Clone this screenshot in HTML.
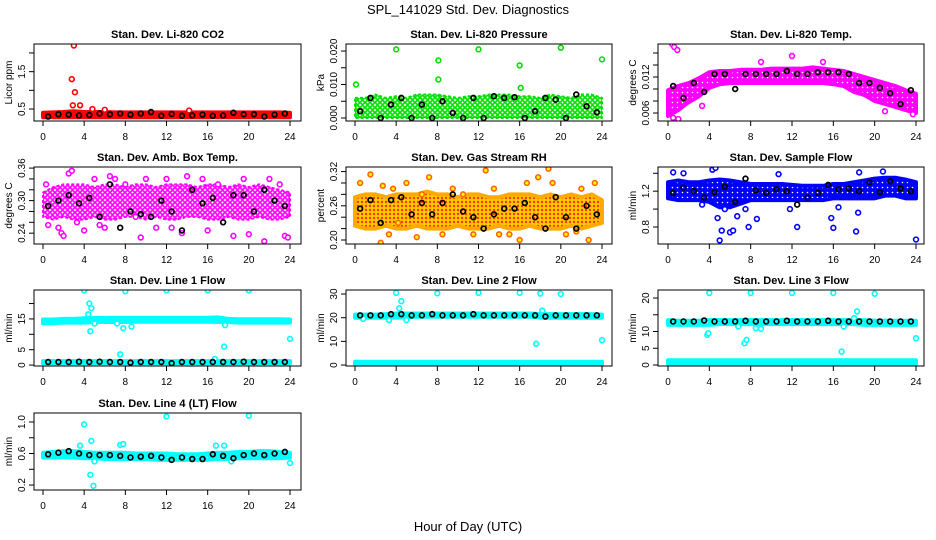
<!DOCTYPE html>
<html><head><meta charset="utf-8"><style>
html,body{margin:0;padding:0;background:#fff;}
svg{display:block;font-family:"Liberation Sans",sans-serif;}
</style></head><body>
<svg id="chart" width="936" height="540" viewBox="0 0 936 540">
<text x="468" y="14" text-anchor="middle" font-size="13">SPL_141029  Std. Dev. Diagnostics</text>
<text x="468" y="531" text-anchor="middle" font-size="13">Hour of Day (UTC)</text>
</svg>
<script>
const blackHours=[0.5,1.5,2.5,3.5,4.5,5.5,6.5,7.5,8.5,9.5,10.5,11.5,12.5,13.5,14.5,15.5,16.5,17.5,18.5,19.5,20.5,21.5,22.5,23.5];
const bandHours=[0,1,2,3,4,5,6,7,8,9,10,11,12,13,14,15,16,17,18,19,20,21,22,23,24];
const flatHours=[0,24];
const xTicks=[0,4,8,12,16,20,24];

const co2Lo=[0.28,0.28,0.28,0.28,0.28,0.28,0.28,0.28,0.28,0.28,0.28,0.28,0.28,0.28,0.28,0.28,0.28,0.28,0.28,0.28,0.28,0.28,0.28,0.28,0.28];
const co2Hi=[0.4,0.41,0.42,0.44,0.42,0.42,0.42,0.41,0.41,0.41,0.41,0.41,0.41,0.41,0.41,0.41,0.41,0.41,0.41,0.41,0.41,0.41,0.41,0.41,0.4];
const co2OutX=[2.8,3.0,3.1,2.9,3.6,4.8,6.0,14.2];
const co2OutY=[1.3,2.2,0.95,0.6,0.6,0.5,0.48,0.46];
const co2Black=[0.3,0.36,0.35,0.33,0.34,0.38,0.36,0.38,0.35,0.38,0.42,0.32,0.37,0.32,0.33,0.35,0.32,0.33,0.4,0.36,0.36,0.3,0.35,0.38];

const presLo=[0,0,0,0,0,0,0,0,0,0,0,0,0,0,0,0,0,0,0,0,0,0,0,0,0];
const presHi=[0.006,0.006,0.007,0.006,0.0065,0.006,0.007,0.007,0.007,0.0065,0.006,0.0065,0.0065,0.007,0.007,0.007,0.0065,0.0065,0.006,0.007,0.0065,0.006,0.007,0.007,0.006];
const presOutX=[0.1,4,8.1,8.1,12,16,16.1,20,24];
const presOutY=[0.010,0.0205,0.0172,0.0115,0.0205,0.0157,0.009,0.021,0.0175];
const presBlack=[0.002,0.006,0,0.004,0.006,0,0.004,0,0.005,0.0015,0,0.006,0,0.0065,0.006,0.0062,0,0.002,0.006,0.0055,0,0.007,0.0035,0.0017];

const tempLo=[0.0055,0.0065,0.0078,0.0088,0.0102,0.0108,0.011,0.011,0.011,0.011,0.011,0.011,0.011,0.011,0.011,0.011,0.0108,0.0105,0.0095,0.009,0.008,0.0075,0.007,0.0065,0.006];
const tempHi=[0.0098,0.0105,0.011,0.0118,0.0128,0.013,0.013,0.0132,0.0132,0.0132,0.0134,0.0134,0.0134,0.0134,0.0136,0.0134,0.0132,0.013,0.0125,0.012,0.0115,0.011,0.0105,0.0098,0.0092];
const tempOutX=[0.4,0.6,0.9,0.5,1.0,3.3,21,23.7,9,12,15];
const tempOutY=[0.0175,0.017,0.0165,0.0052,0.005,0.0072,0.0063,0.0058,0.0145,0.0155,0.0145];
const tempBlack=[0.0105,0.0085,0.011,0.0095,0.0125,0.0125,0.0100,0.0125,0.0125,0.0125,0.0125,0.0130,0.0125,0.0125,0.0128,0.0128,0.0128,0.0125,0.0110,0.0110,0.0102,0.0093,0.0075,0.0098];

const boxLo=[0.27,0.265,0.27,0.265,0.265,0.27,0.265,0.265,0.27,0.27,0.265,0.27,0.265,0.265,0.27,0.27,0.265,0.265,0.27,0.265,0.265,0.27,0.265,0.265,0.27];
const boxHi=[0.315,0.325,0.33,0.33,0.33,0.325,0.33,0.33,0.325,0.33,0.33,0.325,0.33,0.33,0.33,0.325,0.33,0.33,0.325,0.33,0.325,0.33,0.325,0.32,0.315];
const boxOutX=[0.3,1.5,1.8,2,2.5,2.8,3.3,4,5,5.5,6.5,7,8,9.5,10,11,12,13.5,14,15.5,16,17,18.5,19.5,20,21.5,22,23,23.5,23.8,12.5,9,0.5,6];
const boxOutY=[0.33,0.25,0.24,0.235,0.35,0.355,0.26,0.245,0.34,0.255,0.345,0.34,0.33,0.232,0.34,0.25,0.34,0.24,0.345,0.34,0.245,0.33,0.235,0.34,0.238,0.225,0.34,0.33,0.235,0.232,0.25,0.27,0.255,0.25];
const boxBlack=[0.29,0.30,0.31,0.295,0.305,0.27,0.33,0.25,0.28,0.275,0.27,0.30,0.28,0.245,0.32,0.295,0.305,0.26,0.31,0.31,0.28,0.32,0.30,0.29];

const rhLo=[0.225,0.22,0.22,0.225,0.22,0.22,0.225,0.22,0.22,0.22,0.225,0.22,0.22,0.22,0.225,0.22,0.22,0.225,0.22,0.22,0.22,0.225,0.22,0.225,0.23];
const rhHi=[0.275,0.28,0.28,0.275,0.28,0.28,0.28,0.285,0.28,0.28,0.275,0.28,0.28,0.275,0.275,0.28,0.28,0.28,0.275,0.28,0.275,0.28,0.275,0.28,0.27];
const rhOutX=[0.5,1.5,2.5,3.7,4.2,5,6.5,7.2,8.5,9.5,10.5,11.5,12.7,13.5,15,16,16.7,17.8,18.8,19.2,20.5,21.5,22.7,23.3,2.7,3.3,6,14,22];
const rhOutY=[0.30,0.315,0.195,0.29,0.23,0.30,0.28,0.31,0.21,0.29,0.28,0.21,0.322,0.29,0.21,0.20,0.30,0.31,0.325,0.30,0.21,0.215,0.20,0.30,0.295,0.21,0.205,0.21,0.29];
const rhBlack=[0.255,0.27,0.23,0.27,0.275,0.245,0.265,0.245,0.265,0.28,0.25,0.24,0.22,0.245,0.255,0.255,0.265,0.24,0.22,0.275,0.24,0.22,0.26,0.245];

const flowLo=[1.12,1.1,1.1,1.1,1.08,1.02,1.02,1.06,1.1,1.1,1.1,1.1,1.1,1.1,1.1,1.1,1.12,1.12,1.12,1.12,1.12,1.15,1.15,1.12,1.12];
const flowHi=[1.3,1.32,1.3,1.3,1.32,1.33,1.32,1.3,1.28,1.28,1.28,1.28,1.27,1.26,1.26,1.26,1.28,1.28,1.3,1.32,1.34,1.35,1.35,1.33,1.3];
const flowOutX=[0.5,1.5,4.3,4.8,5,5.2,5.5,6,6.3,6.7,7.8,8.6,10.7,11.8,12.5,15.8,16,16.5,18.2,18.4,18.5,20.8,24,3.3,4.6,7.5];
const flowOutY=[1.41,1.4,1.44,0.9,0.65,0.76,1.0,0.74,0.76,0.92,0.8,0.89,1.39,1.0,0.8,0.9,0.79,1.02,0.75,0.96,1.41,1.42,0.66,1.05,1.46,1.0];
const flowBlack=[1.18,1.24,1.2,1.13,1.19,1.25,1.08,1.34,1.21,1.18,1.22,1.2,1.05,1.13,1.18,1.27,1.22,1.23,1.2,1.3,1.19,1.31,1.23,1.2];

const l1Lo=[13.6,13.6,13.8,13.8,13.8,14,14,14,14,14.1,14.1,14.1,14.1,14.1,14.1,14.1,14.1,14,14,13.8,13.8,13.8,13.8,13.8,13.8];
const l1Hi=[14.8,14.8,15,15,15.2,15.3,15.3,15.4,15.4,15.4,15.4,15.4,15.4,15.4,15.4,15.4,15.4,15.5,15,14.9,14.9,14.9,14.9,14.9,14.8];
const l1LowLo=[0.6,0.6];
const l1LowHi=[1.3,1.3];
const l1OutX=[4,4.5,4.7,4.4,4.6,5,7.5,7.8,8,12,16,17.6,17.7,20,24,16.7,7.2,8.6];
const l1OutY=[24.3,20,18.5,16.5,11,13.5,3.5,12,24,24.3,24.3,6,13,24.3,8.5,2,13.5,12.5];
const l1Black=[1,1,1,1.1,1,1.1,1,1,0.8,1,1,1,0.6,1,1,1,1,1,1,1.1,1,1,1,1];

const l2Lo=[20,20,20,20,20,20.2,20.4,20.4,20.4,20.4,20.4,20.4,20.4,20.4,20.4,20.4,20.4,20.4,20,20,20,20,20,20,20];
const l2Hi=[21.3,21.3,21.3,21.5,21.8,21.8,21.8,21.8,21.8,21.8,21.8,21.8,21.8,21.8,21.8,21.8,21.8,21.8,21.5,21.5,21.5,21.5,21.5,21.5,21.3];
const l2LowLo=[0.3,0.3];
const l2LowHi=[1.4,1.4];
const l2OutX=[4,8,12,16,18,20,4.5,4.3,17.6,24,18.2,3.3,0.8,5];
const l2OutY=[30.5,30.3,30.5,30.5,30.2,30,27,24,9,10.5,23,19,19.5,19];
const l2Black=[21,21,21,21.5,21.5,21,21,21.5,21,21,21,21.5,21,21,21,21,21,21,20.5,21,21,21,21,21];

const l3Lo=[12,12,12,12,12,12.2,12.2,12.2,12.2,12.2,12.2,12.2,12.2,12.2,12.2,12.2,12.2,12.2,12.2,12,12,12,12,12,12];
const l3Hi=[13.4,13.2,13.2,13.2,13.4,13.4,13.4,13.4,13.4,13.4,13.4,13.4,13.4,13.4,13.4,13.4,13.4,13.4,13.4,13.4,13.2,13.2,13.2,13.2,13.2];
const l3LowLo=[0.3,0.3];
const l3LowHi=[1.4,1.4];
const l3OutX=[4,8,12,16,20,18.3,3.8,3.9,7.4,7.6,8.5,6.8,16.8,24,17,9,18];
const l3OutY=[21.5,21.5,21.5,21.5,21.3,16,9,9.5,6.5,7.5,11,11.5,4,8,11.5,10.8,14];
const l3Black=[13,13,13,13.3,13,13,13,13.2,13,13,13,13.2,13,13,13,13.2,13,13,13,13,13,13,13,13];

const l4Lo=[0.55,0.55,0.55,0.55,0.54,0.54,0.53,0.53,0.53,0.53,0.53,0.52,0.52,0.52,0.52,0.52,0.52,0.53,0.53,0.54,0.54,0.54,0.54,0.54,0.55];
const l4Hi=[0.61,0.62,0.63,0.63,0.62,0.61,0.61,0.61,0.61,0.6,0.6,0.6,0.6,0.59,0.59,0.59,0.6,0.61,0.61,0.62,0.62,0.63,0.63,0.62,0.61];
const l4OutX=[4,4.7,4.6,4.9,12,20,3.6,7.5,7.8,16.8,17.6,24,5,18.3];
const l4OutY=[0.97,0.76,0.33,0.19,1.07,1.08,0.7,0.71,0.72,0.7,0.7,0.48,0.5,0.5];
const l4Black=[0.59,0.61,0.63,0.6,0.58,0.58,0.58,0.57,0.55,0.56,0.57,0.55,0.52,0.55,0.53,0.53,0.59,0.57,0.54,0.58,0.6,0.58,0.6,0.62];

const NS='http://www.w3.org/2000/svg';
const svg=document.getElementById('chart');
function mk(tag,attrs,parent){const e=document.createElementNS(NS,tag);for(const k in attrs)e.setAttribute(k,attrs[k]);(parent||svg).appendChild(e);return e;}

const cols=[{l:34,r:301,x0:43,x24:290},{l:346,r:612,x0:355,x24:602},{l:658,r:924,x0:668,x24:916}];
const rows=[{t:44,b:121},{t:167,b:244},{t:290,b:366},{t:413,b:490}];

const panels=[
 {name:'co2',title:'Stan. Dev. Li-820 CO2',ylab:'Licor ppm',c:0,r:0,ymin:0.18,ymax:2.24,ticks:[0.5,1,1.5,2],labels:['0.5','','1.5',''],color:'#ff0000',
  bands:[[bandHours,co2Lo,co2Hi]],ox:co2OutX,oy:co2OutY,black:co2Black},
 {name:'pressure',title:'Stan. Dev. Li-820 Pressure',ylab:'kPa',c:1,r:0,ymin:-0.0009,ymax:0.0221,ticks:[0,0.005,0.01,0.015,0.02],labels:['0.000','','0.010','','0.020'],color:'#00e000',sparse:true,
  bands:[[bandHours,presLo,presHi]],ox:presOutX,oy:presOutY,black:presBlack},
 {name:'li820-temp',title:'Stan. Dev. Li-820 Temp.',ylab:'degrees C',c:2,r:0,ymin:0.00467,ymax:0.0175,ticks:[0.006,0.008,0.010,0.012,0.014,0.016],labels:['0.006','','','0.012','',''],color:'#ff00ff',
  bands:[[bandHours,tempLo,tempHi]],ox:tempOutX,oy:tempOutY,black:tempBlack},
 {name:'box-temp',title:'Stan. Dev. Amb. Box Temp.',ylab:'degrees C',c:0,r:1,ymin:0.22,ymax:0.362,ticks:[0.24,0.26,0.28,0.30,0.32,0.34,0.36],labels:['0.24','','','0.30','','','0.36'],color:'#ff00ff',sparse:true,
  bands:[[bandHours,boxLo,boxHi]],ox:boxOutX,oy:boxOutY,black:boxBlack},
 {name:'gas-rh',title:'Stan. Dev. Gas Stream RH',ylab:'percent',c:1,r:1,ymin:0.193,ymax:0.328,ticks:[0.20,0.22,0.24,0.26,0.28,0.30,0.32],labels:['0.20','','','0.26','','','0.32'],color:'#ff9900',
  bands:[[bandHours,rhLo,rhHi]],ox:rhOutX,oy:rhOutY,black:rhBlack,rh:true},
 {name:'sample-flow',title:'Stan. Dev. Sample Flow',ylab:'ml/min',c:2,r:1,ymin:0.61,ymax:1.47,ticks:[0.8,1.0,1.2,1.4],labels:['0.8','','1.2',''],color:'#0000ff',
  bands:[[bandHours,flowLo,flowHi]],ox:flowOutX,oy:flowOutY,black:flowBlack},
 {name:'line1-flow',title:'Stan. Dev. Line 1 Flow',ylab:'ml/min',c:0,r:2,ymin:-0.3,ymax:24.4,ticks:[0,5,10,15,20],labels:['0','5','','15',''],color:'#00ffff',
  bands:[[bandHours,l1Lo,l1Hi],[flatHours,l1LowLo,l1LowHi]],ox:l1OutX,oy:l1OutY,black:l1Black},
 {name:'line2-flow',title:'Stan. Dev. Line 2 Flow',ylab:'ml/min',c:1,r:2,ymin:-0.4,ymax:31.7,ticks:[0,10,20,30],labels:['0','10','20','30'],color:'#00ffff',
  bands:[[bandHours,l2Lo,l2Hi],[flatHours,l2LowLo,l2LowHi]],ox:l2OutX,oy:l2OutY,black:l2Black},
 {name:'line3-flow',title:'Stan. Dev. Line 3 Flow',ylab:'ml/min',c:2,r:2,ymin:-0.3,ymax:22.4,ticks:[0,5,10,15,20],labels:['0','5','10','','20'],color:'#00ffff',
  bands:[[bandHours,l3Lo,l3Hi],[flatHours,l3LowLo,l3LowHi]],ox:l3OutX,oy:l3OutY,black:l3Black},
 {name:'line4-flow',title:'Stan. Dev. Line 4 (LT) Flow',ylab:'ml/min',c:0,r:3,ymin:0.137,ymax:1.114,ticks:[0.2,0.4,0.6,0.8,1.0],labels:['0.2','','0.6','','1.0'],color:'#00ffff',
  bands:[[bandHours,l4Lo,l4Hi]],ox:l4OutX,oy:l4OutY,black:l4Black}
];

const defs=mk('defs',{});
const pat=mk('pattern',{id:'rhpat',width:4,height:4,patternUnits:'userSpaceOnUse'},defs);
mk('rect',{width:4,height:4,fill:'#ffcc00'},pat);
mk('circle',{cx:2,cy:2,r:1.2,fill:'#ff3300'},pat);

panels.forEach(p=>{
  const col=cols[p.c],row=rows[p.r];
  const xs=h=>col.x0+(col.x24-col.x0)*h/24;
  const ys=v=>row.b-(v-p.ymin)/(p.ymax-p.ymin)*(row.b-row.t);
  const g=mk('g',{});
  
  
  // texture pattern for cloud
  let fillRef='url(#rhpat)';
  if(!p.rh){
    const pp=mk('pattern',{id:'pat-'+p.name,width:5,height:5,patternUnits:'userSpaceOnUse'},defs);
    if(p.sparse){
      mk('rect',{width:5,height:5,fill:'#fff'},pp);
      mk('circle',{cx:2.5,cy:2.5,r:1.8,fill:'none',stroke:p.color,'stroke-width':1.6},pp);
    }else{
      mk('rect',{width:5,height:5,fill:p.color},pp);
      mk('circle',{cx:2.5,cy:2.5,r:0.8,fill:'#fff'},pp);
    }
    fillRef='url(#pat-'+p.name+')';
  }
  const cp=mk('clipPath',{id:'clip-'+p.name},defs);
  mk('rect',{x:col.l,y:row.t,width:col.r-col.l,height:row.b-row.t},cp);
  const plot=mk('g',{'clip-path':'url(#clip-'+p.name+')'},g);
  p.bands.forEach(b=>{
    const [hs,lo,hi]=b;
    let pts=hs.map((h,i)=>xs(h)+','+ys(hi[i]));
    pts=pts.concat(hs.slice().reverse().map((h,j)=>{const i=hs.length-1-j;return xs(h)+','+ys(lo[i]);}));
    const poly=mk('polygon',{points:pts.join(' '),fill:fillRef,stroke:p.rh?'#ffaa00':p.color,'stroke-width':p.sparse?2:4,'stroke-linejoin':'round','stroke-dasharray':p.sparse?'3 2':'none'},plot);
    
    
  });
  p.ox.forEach((h,i)=>{
    const c=mk('circle',{cx:xs(h),cy:ys(p.oy[i]),r:2.4,fill:p.rh?'#ffff00':'#fff',stroke:p.rh?'#ff6600':p.color,'stroke-width':1.6},plot);
    
    
  });
  p.black.forEach((v,i)=>{
    const c=mk('circle',{cx:xs(blackHours[i]),cy:ys(v),r:2.4,fill:'none',stroke:'#000','stroke-width':1.7},plot);
    
    
  });
  mk('rect',{x:col.l,y:row.t,width:col.r-col.l,height:row.b-row.t,fill:'none',stroke:'#000','stroke-width':1},g);
  const t=mk('text',{x:(col.l+col.r)/2,y:row.t-6,'text-anchor':'middle','font-size':11,'font-weight':'bold'},g);
  t.textContent=p.title;
  
  
  xTicks.forEach(h=>{
    mk('line',{x1:xs(h),x2:xs(h),y1:row.b,y2:row.b+5,stroke:'#000'},g);
    const tl=mk('text',{x:xs(h),y:row.b+19,'text-anchor':'middle','font-size':10},g);
    tl.textContent=h;
    
    
  });
  p.ticks.forEach((v,i)=>{
    const y=ys(v);
    mk('line',{x1:col.l-5,x2:col.l,y1:y,y2:y,stroke:'#000'},g);
    if(p.labels[i]){
      const tl=mk('text',{x:col.l-9,y:y,'text-anchor':'middle','font-size':10,transform:'rotate(-90 '+(col.l-9)+' '+y+')'},g);
      tl.textContent=p.labels[i];
      
      
    }
  });
  const yl=mk('text',{x:col.l-22,y:(row.t+row.b)/2,'text-anchor':'middle','font-size':10,transform:'rotate(-90 '+(col.l-22)+' '+((row.t+row.b)/2)+')'},g);
  yl.textContent=p.ylab;
  
  
});
</script>
</body></html>
